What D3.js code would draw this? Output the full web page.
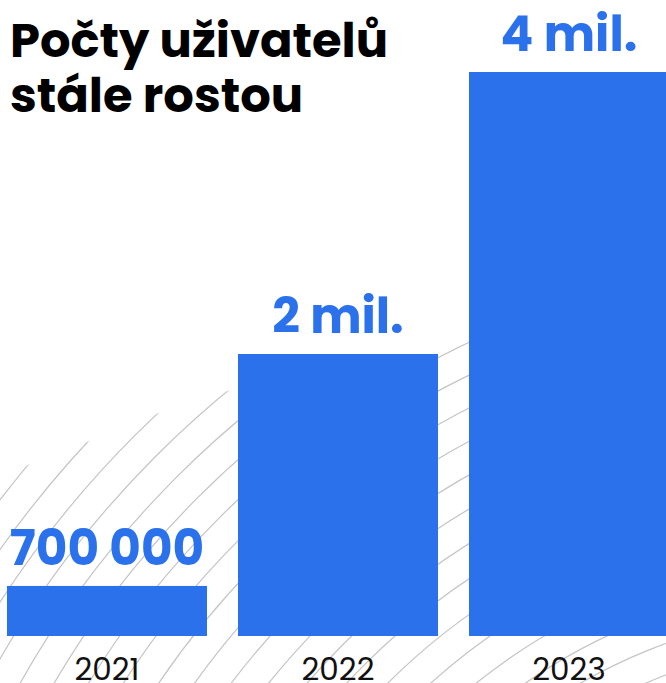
<!DOCTYPE html>
<html><head><meta charset="utf-8">
<script src="https://cdn.jsdelivr.net/npm/d3@7"></script>
<style>html,body{margin:0;padding:0;background:#fff;overflow:hidden}</style>
</head><body><svg id="c" width="666" height="683"></svg>
<script>
const titleLines = ["Počty uživatelů", "stále rostou"];
const years = ["2021", "2022", "2023"];
const valueLabels = ["700 000", "2 mil.", "4 mil."];
const users = [700000, 2000000, 4000000];
// bar lengths as drawn in the source graphic (millions); the 2021 bar is drawn shorter than to scale
const drawnMillions = [0.355, 2, 4];

const W = 666, H = 683;
const blue = "#2a71eb";
const svg = d3.select("#c");

// decorative hatching (concentric arcs, lower-left)
const defs = svg.append("defs");
const clipPts = [[0,487],[7,480],[78,446],[150,416],[224,392],[453,343],[666,300]];
const clipPath = d3.line().curve(d3.curveMonotoneX)(clipPts) + "L666,683L0,683Z";
defs.append("clipPath").attr("id","hclip").append("path").attr("d", clipPath);
const hatch = svg.append("g").attr("clip-path","url(#hclip)");
hatch.selectAll("circle").data(d3.range(480, 1500, 29.5)).join("circle")
  .attr("cx", 850).attr("cy", 1150).attr("r", d => d)
  .attr("fill","none").attr("stroke","#c4c4c4").attr("stroke-width",1.2);

const x = d3.scaleBand().domain(years).range([7, 669]).paddingInner(31/231).paddingOuter(0);
const y = d3.scaleLinear().domain([0, 4]).range([636, 72]);

const data = years.map((yr, i) => ({yr, v: drawnMillions[i], label: valueLabels[i], users: users[i]}));

svg.append("g").selectAll("rect").data(data).join("rect")
  .attr("x", d => x(d.yr)).attr("width", x.bandwidth())
  .attr("y", d => y(d.v)).attr("height", d => y(0) - y(d.v))
  .attr("fill", blue);

svg.append("g").selectAll("text").data(data).join("text")
  .attr("x", d => x(d.yr) + x.bandwidth()/2)
  .attr("y", d => y(d.v) - 21)
  .attr("text-anchor","middle")
  .attr("font-family","Poppins, 'Open Sans', sans-serif")
  .attr("font-weight",700).attr("font-size",48.5)
  .attr("fill", blue)
  .text(d => d.label);

svg.append("g").selectAll("text").data(data).join("text")
  .attr("x", d => x(d.yr) + x.bandwidth()/2)
  .attr("y", 680)
  .attr("text-anchor","middle")
  .attr("font-family","Poppins, 'Open Sans', sans-serif")
  .attr("font-weight",400).attr("font-size",31)
  .attr("fill", "#111")
  .text(d => d.yr);

svg.append("g").selectAll("text").data(titleLines).join("text")
  .attr("x", 10).attr("y", (d, i) => 57 + i*55)
  .attr("font-family","Poppins, 'Open Sans', sans-serif")
  .attr("font-weight",700).attr("font-size",48)
  .attr("fill","#000")
  .text(d => d);
</script>
</body></html>
